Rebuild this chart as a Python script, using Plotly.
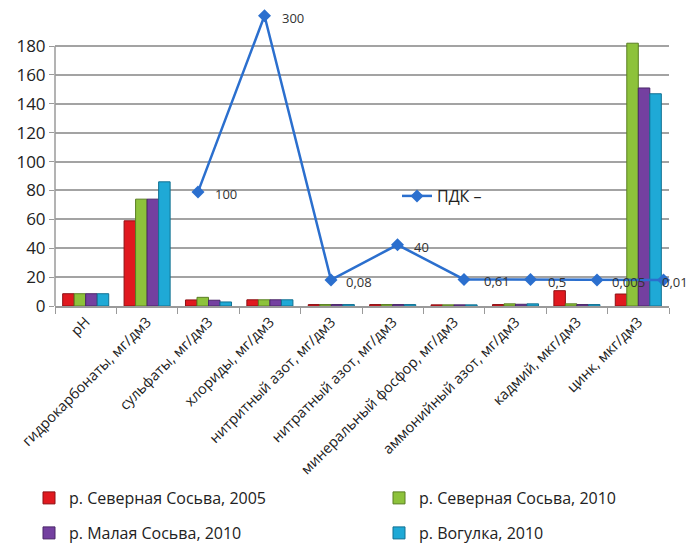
import plotly.graph_objects as go

categories = ["pH", "гидрокарбонаты, мг/дм3", "сульфаты, мг/дм3", "хлориды, мг/дм3",
              "нитритный азот, мг/дм3", "нитратный азот, мг/дм3", "минеральный фосфор, мг/дм3",
              "аммонийный азот, мг/дм3", "кадмий, мкг/дм3", "цинк, мкг/дм3"]

sev_sosva_2005 = [8.5, 59, 4.2, 4.3, 1.0, 1.0, 0.8, 1.0, 10.6, 8.3]
sev_sosva_2010 = [8.5, 74, 6.0, 4.3, 1.0, 1.0, 0.8, 1.5, 1.5, 182]
mal_sosva_2010 = [8.5, 74, 4.0, 4.3, 1.0, 1.0, 0.8, 1.2, 1.0, 151]
vogulka_2010 = [8.5, 86, 2.8, 4.3, 1.0, 1.0, 0.8, 1.5, 1.0, 147]

series_names = ["р. Северная Сосьва, 2005", "р. Северная Сосьва, 2010",
                "р. Малая Сосьва, 2010", "р. Вогулка, 2010"]
series_values = [sev_sosva_2005, sev_sosva_2010, mal_sosva_2010, vogulka_2010]
colors = ["#e0191f", "#8dc23b", "#7440a0", "#1fa9d6"]
edge_colors = ["#8e1014", "#5a7f22", "#4a2668", "#137192"]

pdk_categories = categories[2:]
pdk_values = [100, 300, 0.08, 40, 0.61, 0.5, 0.005, 0.01]
pdk_labels = ["100", "300", "0,08", "40", "0,61", "0,5", "0,005", "0,01"]
pdk_label_shift = [15, 15, 13, 14, 18, 15, 13, -4]

y_ticks = list(range(0, 181, 20))

FONT = "Open Sans"
fig = go.Figure()

legend_names = ["legend", "legend2", "legend3", "legend4"]
for name, vals, c, ec, lg in zip(series_names, series_values, colors, edge_colors, legend_names):
    fig.add_trace(go.Bar(
        x=categories, y=vals, name=name,
        marker=dict(color=c, line=dict(color=ec, width=1)),
        legend=lg,
    ))

fig.add_trace(go.Scatter(
    x=pdk_categories, y=pdk_values, name="ПДК –",
    mode="lines+markers",
    line=dict(color="#2b6fce", width=2.5),
    marker=dict(symbol="diamond", size=10, color="#2b6fce"),
    xaxis="x2", yaxis="y2", cliponaxis=False,
    legend="legend5",
))

# page body has an 8px margin: figure is drawn at (8, 8) in the window
OFF = 8
WIN_W, WIN_H = 696, 545
W, H = WIN_W - OFF, WIN_H - OFF
# plot area in window pixels
plot_left, plot_right, plot_top, plot_bottom = 55, 669, 10, 306
ml, mr = plot_left - OFF, W - (plot_right - OFF)
mt, mb = plot_top - OFF, H - (plot_bottom - OFF)
pw, ph = plot_right - plot_left, plot_bottom - plot_top
y_top = 205
pdk_zero, pdk_mult = 18, 0.61

def px_x(px):
    return (px - plot_left) / pw

def px_y(py):
    return (plot_bottom - py) / ph

step = 66.5
first = 198
r0 = -(first - plot_left) / step
r1 = r0 + pw / step

legend_common = dict(font=dict(family=FONT, size=16, color="#222222"),
                     bgcolor="rgba(0,0,0,0)", yanchor="middle", xanchor="left",
                     orientation="h")

annotations = [
    dict(x=c, y=v, xref="x2", yref="y2", text=t, showarrow=False,
         xanchor="left", yanchor="middle", xshift=s, yshift=-2,
         font=dict(family=FONT, size=13, color="#333333"))
    for c, v, t, s in zip(pdk_categories, pdk_values, pdk_labels, pdk_label_shift)
]

fig.update_layout(
    width=W, height=H,
    margin=dict(l=ml, r=mr, t=mt, b=mb, autoexpand=False),
    paper_bgcolor="white", plot_bgcolor="white",
    barmode="group", bargap=0.25, bargroupgap=0,
    font=dict(family=FONT, color="#222222"),
    xaxis=dict(type="category", tickangle=-45, tickfont=dict(size=14.5, color="#222222"),
               showline=True, linecolor="#9a9a9a", linewidth=1.5,
               ticks="outside", tickson="boundaries", ticklen=6, tickcolor="#9a9a9a",
               showgrid=False, automargin=False),
    yaxis=dict(range=[0, y_top], tickvals=y_ticks, tickfont=dict(size=17, color="#222222"),
               showgrid=True, gridcolor="#a3a3a3", gridwidth=1.5,
               ticks="outside", ticklen=5, tickcolor="#9a9a9a",
               showline=False, zeroline=False, automargin=False),
    xaxis2=dict(type="category", categoryorder="array", categoryarray=pdk_categories,
                overlaying="x", anchor="y2", range=[r0, r1], visible=False),
    yaxis2=dict(overlaying="y", anchor="x2",
                range=[(0 - pdk_zero) / pdk_mult, (y_top - pdk_zero) / pdk_mult],
                visible=False),
    shapes=[dict(type="line", xref="paper", yref="y", x0=0, x1=0, y0=0, y1=180,
                 line=dict(color="#9a9a9a", width=1.5))],
    annotations=annotations,
    legend=dict(x=px_x(29), y=px_y(498), **legend_common),
    legend2=dict(x=px_x(379), y=px_y(498), **legend_common),
    legend3=dict(x=px_x(29), y=px_y(533), **legend_common),
    legend4=dict(x=px_x(379), y=px_y(533), **legend_common),
    legend5=dict(x=px_x(397), y=px_y(196), **legend_common),
    showlegend=True,
)

fig.write_html("out.html")
